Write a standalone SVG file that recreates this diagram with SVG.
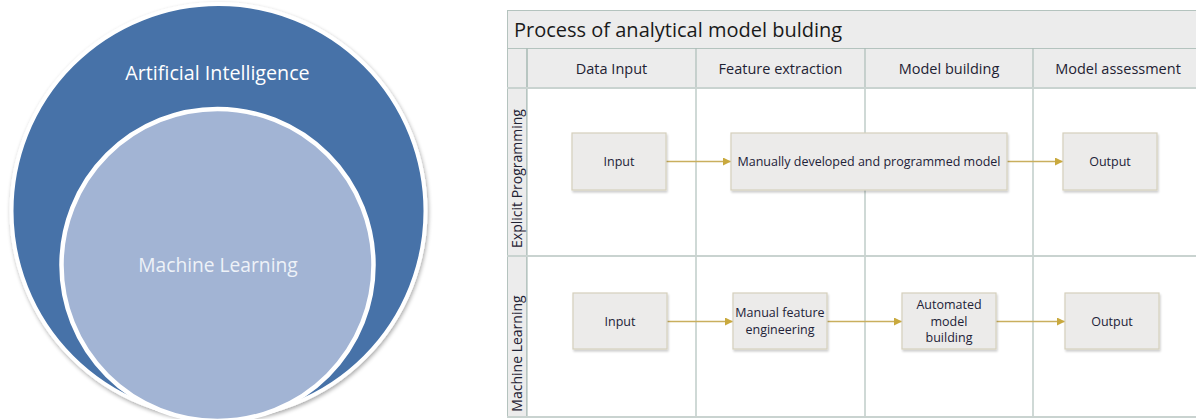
<svg xmlns="http://www.w3.org/2000/svg" width="1196" height="419" viewBox="0 0 1196 419">
  <defs>
    <filter id="soft" x="-10%" y="-10%" width="120%" height="120%">
      <feGaussianBlur in="SourceAlpha" stdDeviation="2"/>
      <feOffset dx="1" dy="2"/>
      <feComponentTransfer><feFuncA type="linear" slope="0.35"/></feComponentTransfer>
      <feMerge><feMergeNode/><feMergeNode in="SourceGraphic"/></feMerge>
    </filter>
    <filter id="boxshadow" x="-10%" y="-10%" width="125%" height="130%">
      <feGaussianBlur in="SourceAlpha" stdDeviation="1.2"/>
      <feOffset dx="1" dy="2"/>
      <feComponentTransfer><feFuncA type="linear" slope="0.2"/></feComponentTransfer>
      <feMerge><feMergeNode/><feMergeNode in="SourceGraphic"/></feMerge>
    </filter>
    <marker id="arrow" viewBox="0 0 10 10" refX="10" refY="5" markerWidth="8" markerHeight="8" markerUnits="userSpaceOnUse" orient="auto">
      <path d="M0,0 L10,5 L0,10 Z" fill="#C9A93E"/>
    </marker>
  </defs>
  <style>
    .venn { font-family: "Open Sans", "Noto Sans", sans-serif; text-anchor: middle; }
    .band { fill: #ECECEC; stroke: #B4C3BE; stroke-width: 1; }
    .grid { stroke: #9FB3AD; stroke-width: 1; fill: none; }
    .hline { stroke: #C9D3D0; stroke-width: 2; fill: none; }
    .hdr { font-family: "Open Sans", "Noto Sans", sans-serif; font-size: 14.5px; fill: #1E2233; text-anchor: middle; }
    .lane { font-family: "Open Sans", "Noto Sans", sans-serif; font-size: 14px; fill: #1E2233; text-anchor: middle; }
    .title { font-family: "Open Sans", "Noto Sans", sans-serif; font-size: 20px; fill: #1A1A1A; }
    .box { fill: #ECEBEA; stroke: #D6D0BC; stroke-width: 1.2; filter: url(#boxshadow); }
    .lbl { font-family: "Open Sans", "Noto Sans", sans-serif; font-size: 12.5px; fill: #222238; text-anchor: middle; }
    .conn { stroke: #C9AF5E; stroke-width: 1.3; fill: none; marker-end: url(#arrow); }
  </style>

  <rect width="1196" height="419" fill="#FFFFFF"/>

  <!-- Venn: AI contains ML -->
  <g id="ai">
    <circle cx="218.5" cy="211" r="207" fill="#4672A8" stroke="#FFFFFF" stroke-width="4" filter="url(#soft)"/>
    <text class="venn" x="217.5" y="80" font-size="19.7" fill="#FFFFFF">Artificial Intelligence</text>
  </g>
  <g id="ml">
    <circle cx="217.5" cy="265" r="156" fill="#A2B4D4" stroke="#FFFFFF" stroke-width="4.5"/>
    <text class="venn" x="218" y="272" font-size="19.2" fill="#EEF2F8">Machine Learning</text>
  </g>

  <!-- Swimlane frame -->
  <g id="pool">
    <rect class="band" x="507.5" y="10.5" width="700" height="38"/>
    <text class="title" x="514" y="37">Process of analytical model bulding</text>
    <rect class="band" x="507.5" y="48.5" width="700" height="39"/>
    <rect class="band" x="507.5" y="48.5" width="19.5" height="369"/>
    <rect x="527" y="88" width="680" height="328" fill="#FFFFFF"/>
    <line class="grid" x1="527" y1="48.5" x2="527" y2="418"/>
    <line class="grid" x1="696" y1="48.5" x2="696" y2="418"/>
    <line class="grid" x1="865" y1="48.5" x2="865" y2="418"/>
    <line class="grid" x1="1033" y1="48.5" x2="1033" y2="418"/>
    <line class="hline" x1="507" y1="88" x2="1200" y2="88"/>
    <line class="hline" x1="507" y1="256" x2="1200" y2="256"/>
    <line class="hline" x1="507" y1="417" x2="1200" y2="417"/>
    <text class="hdr" x="611.5" y="74">Data Input</text>
    <text class="hdr" x="780.5" y="74">Feature extraction</text>
    <text class="hdr" x="949" y="74">Model building</text>
    <text class="hdr" x="1118" y="74">Model assessment</text>
    <text class="lane" transform="translate(522,178.5) rotate(-90)">Explicit Programming</text>
    <text class="lane" transform="translate(522,353.5) rotate(-90)">Machine Learning</text>
  </g>

  <!-- Connectors -->
  <g id="connectors">
    <line class="conn" x1="666" y1="161.5" x2="731" y2="161.5"/>
    <line class="conn" x1="1007" y1="161.5" x2="1063" y2="161.5"/>
    <line class="conn" x1="667" y1="321.5" x2="733" y2="321.5"/>
    <line class="conn" x1="827" y1="321.5" x2="902" y2="321.5"/>
    <line class="conn" x1="996" y1="321.5" x2="1065" y2="321.5"/>
  </g>

  <!-- Explicit programming lane -->
  <g id="ep-input">
    <rect class="box" x="572" y="133" width="94" height="57"/>
    <text class="lbl" x="619" y="166">Input</text>
  </g>
  <g id="ep-model">
    <rect class="box" x="731" y="133" width="276" height="57"/>
    <text class="lbl" x="869" y="166">Manually developed and programmed model</text>
  </g>
  <g id="ep-output">
    <rect class="box" x="1063" y="133" width="94" height="57"/>
    <text class="lbl" x="1110" y="166">Output</text>
  </g>

  <!-- Machine learning lane -->
  <g id="ml-input">
    <rect class="box" x="573" y="293" width="94" height="56"/>
    <text class="lbl" x="620" y="326">Input</text>
  </g>
  <g id="ml-features">
    <rect class="box" x="733" y="293" width="94" height="56"/>
    <text class="lbl" x="780" y="317">Manual feature</text>
    <text class="lbl" x="780" y="334">engineering</text>
  </g>
  <g id="ml-model">
    <rect class="box" x="902" y="293" width="94" height="56"/>
    <text class="lbl" x="949" y="309">Automated</text>
    <text class="lbl" x="949" y="326">model</text>
    <text class="lbl" x="949" y="342">building</text>
  </g>
  <g id="ml-output">
    <rect class="box" x="1065" y="293" width="94" height="56"/>
    <text class="lbl" x="1112" y="326">Output</text>
  </g>
</svg>
